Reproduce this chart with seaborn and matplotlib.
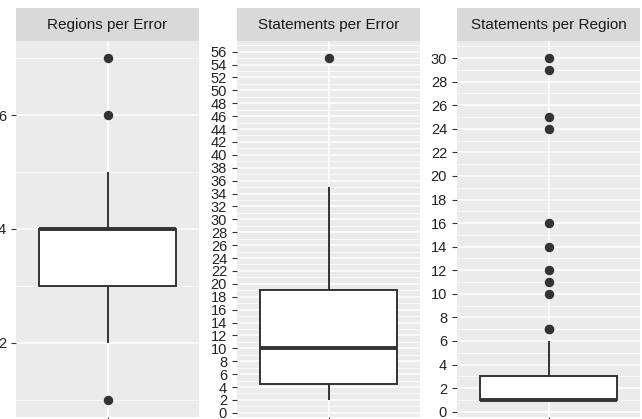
import numpy as np
import pandas as pd
import seaborn as sns
import matplotlib.pyplot as plt
from matplotlib.patches import Rectangle

# Values
panel_titles = ['Regions per Error', 'Statements per Error', 'Statements per Region']

regions_per_error_vals = [1, 2, 3, 4, 5, 6, 7]
regions_per_error_counts = [1, 1, 3, 5, 1, 1, 1]

statements_per_error = [2, 3, 4, 4, 5, 6, 8, 10, 12, 14, 18, 20, 27, 35, 55]

statements_per_region_vals = [1, 2, 3, 4, 5, 6, 7, 10, 11, 12, 14, 16, 24, 25, 29, 30]
statements_per_region_counts = [30, 6, 8, 1, 1, 1, 2, 1, 1, 1, 1, 1, 1, 1, 1, 1]

major_ticks = [np.arange(2, 7, 2), np.arange(0, 57, 2), np.arange(0, 31, 2)]
minor_ticks = [np.arange(1, 8, 2), np.arange(1, 58, 2), np.arange(1, 32, 2)]

data = pd.concat([
    pd.DataFrame({'metric': panel_titles[0],
                  'value': np.repeat(regions_per_error_vals, regions_per_error_counts)}),
    pd.DataFrame({'metric': panel_titles[1], 'value': statements_per_error}),
    pd.DataFrame({'metric': panel_titles[2],
                  'value': np.repeat(statements_per_region_vals, statements_per_region_counts)}),
])

sns.set_style('white')
plt.rcParams['font.family'] = ['Liberation Sans', 'DejaVu Sans']

fig = plt.figure(figsize=(6.42, 4.19), dpi=100)
W, H = 642, 419
lefts = [16, 237, 457]
width = 183
top, bottom = 41, 417
strip_h = 33

dark = '#333333'
for i, title in enumerate(panel_titles):
    ax = fig.add_axes([lefts[i] / W, (H - bottom) / H, width / W, (bottom - top) / H])
    ax.set_facecolor('#EBEBEB')
    sub = data[data['metric'] == title]
    sns.boxplot(y=sub['value'], ax=ax, color='white', saturation=1, width=0.75,
                linecolor=dark, linewidth=1.4, showcaps=False, whis=1.5,
                medianprops=dict(color=dark, linewidth=2.8),
                flierprops=dict(marker='o', markerfacecolor=dark, markeredgecolor=dark,
                                markersize=5.8))
    vmin, vmax = sub['value'].min(), sub['value'].max()
    pad = 0.05 * (vmax - vmin)
    ax.set_ylim(vmin - pad, vmax + pad)
    ax.set_xlim(-0.5, 0.5)
    ax.set_yticks(major_ticks[i])
    ax.set_yticks(minor_ticks[i], minor=True)
    ax.set_xticks([0])
    ax.set_xticklabels([''])
    ax.set_xlabel('')
    ax.set_ylabel('')
    ax.set_axisbelow(True)
    ax.grid(axis='y', which='major', color='white', linewidth=1.1)
    ax.grid(axis='y', which='minor', color='white', linewidth=0.55)
    ax.grid(axis='x', which='major', color='white', linewidth=1.1)
    for s in ax.spines.values():
        s.set_visible(False)
    ax.tick_params(axis='both', which='major', length=3.6, width=0.8, color=dark,
                   labelsize=10.5, labelcolor='#222222', pad=3.6, left=True, bottom=True)
    ax.tick_params(axis='y', which='minor', length=0)

    # facet strip
    sh = strip_h / (bottom - top)
    ax.add_patch(Rectangle((0, 1), 1, sh, transform=ax.transAxes, facecolor='#D9D9D9',
                           edgecolor='none', clip_on=False))
    ax.text(0.5, 1 + sh / 2, title, transform=ax.transAxes, ha='center', va='center',
            fontsize=11, color='#1A1A1A')

fig.savefig('out.png', dpi=100)
